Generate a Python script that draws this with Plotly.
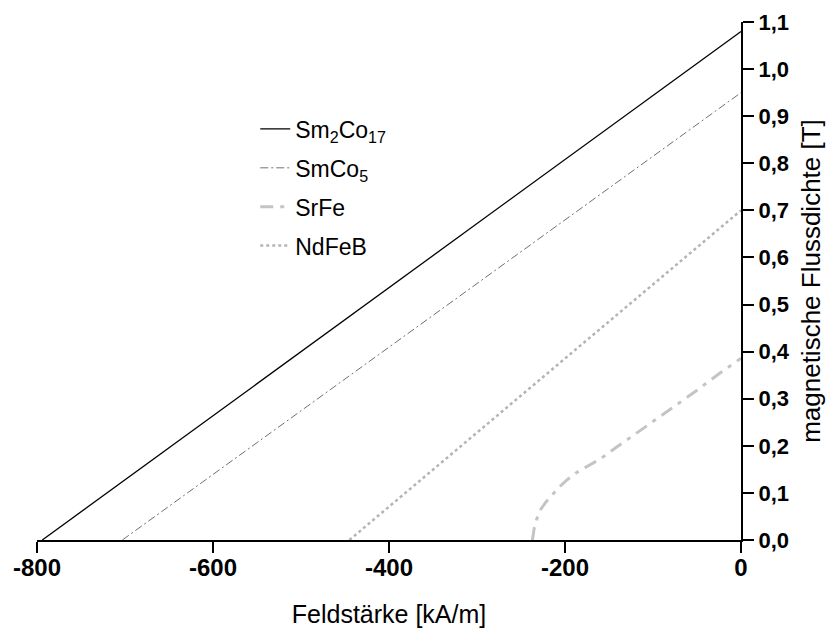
import plotly.graph_objects as go

# Data
sm2co17_H = [-794, 0]
sm2co17_B = [0.0, 1.08]

smco5_H = [-703, 0]
smco5_B = [0.0, 0.95]

ndfeb_H = [-445, 0]
ndfeb_B = [0.0, 0.70]

srfe_H = [-237, -235, -232, -228, -222, -215, -207, -198, -188, -176, -160, -140, -110, -80, -50, -25, 0]
srfe_B = [0.0, 0.025, 0.045, 0.064, 0.08, 0.096, 0.112, 0.127, 0.142, 0.155, 0.172, 0.199, 0.238, 0.278, 0.318, 0.353, 0.386]

x_ticks = [-800, -600, -400, -200, 0]
x_tick_labels = ["-800", "-600", "-400", "-200", "0"]
y_ticks = [0.0, 0.1, 0.2, 0.3, 0.4, 0.5, 0.6, 0.7, 0.8, 0.9, 1.0, 1.1]
y_tick_labels = ["0,0", "0,1", "0,2", "0,3", "0,4", "0,5", "0,6", "0,7", "0,8", "0,9", "1,0", "1,1"]

FONT = "Liberation Sans, Arial, sans-serif"

fig = go.Figure()
fig.add_trace(go.Scatter(x=sm2co17_H, y=sm2co17_B, mode="lines", name="Sm<sub>2</sub>Co<sub>17</sub>",
                         legendgroup="a", line=dict(color="black", width=1.3)))
fig.add_trace(go.Scatter(x=smco5_H, y=smco5_B, mode="lines", name="SmCo<sub>5</sub>",
                         legendgroup="b", line=dict(color="#707070", width=1, dash="8px,3px,2px,3px")))
fig.add_trace(go.Scatter(x=srfe_H, y=srfe_B, mode="lines", name="SrFe",
                         legendgroup="c", line=dict(color="#c4c4c4", width=3, dash="13px,7px,4px,7px")))
fig.add_trace(go.Scatter(x=ndfeb_H, y=ndfeb_B, mode="lines", name="NdFeB",
                         legendgroup="d", line=dict(color="#b4b4b4", width=2.5, dash="3px,3px")))

xr = [-800, 0]
yr = [0, 1.1]

fig.update_layout(
    width=828, height=628,
    margin=dict(l=37, r=87, t=22, b=88, autoexpand=False),
    paper_bgcolor="white", plot_bgcolor="white",
    font=dict(family=FONT, size=20, color="black"),
    showlegend=True,
    legend=dict(x=0.31, y=0.835, xanchor="left", yanchor="top",
                bgcolor="rgba(0,0,0,0)", font=dict(size=23, family=FONT),
                tracegroupgap=6),
    xaxis=dict(range=xr, tickvals=x_ticks, ticktext=x_tick_labels,
               ticks="outside", ticklen=11, tickwidth=2, tickcolor="black",
               showline=True, linecolor="black", linewidth=2,
               showgrid=False, zeroline=False, automargin=False,
               ticklabelstandoff=-6,
               tickfont=dict(family=FONT, size=24, weight="bold"),
               title=dict(text="Feldstärke [kA/m]", font=dict(size=25), standoff=27)),
    yaxis=dict(range=yr, side="right", tickvals=y_ticks, ticktext=y_tick_labels,
               ticks="outside", ticklen=11, tickwidth=2, tickcolor="black",
               showline=True, linecolor="black", linewidth=2,
               showgrid=False, zeroline=False, automargin=False,
               tickfont=dict(family=FONT, size=22, weight="bold"),
               title=dict(text="magnetische Flussdichte [T]", font=dict(size=26), standoff=13)),
    xaxis2=dict(range=xr, overlaying="x", anchor="y", side="bottom", tickvals=x_ticks,
                ticks="inside", ticklen=11, tickwidth=2, tickcolor="black",
                showticklabels=False, showgrid=False, zeroline=False, showline=False),
    yaxis2=dict(range=yr, overlaying="y", anchor="x", side="right", tickvals=y_ticks,
                ticks="inside", ticklen=11, tickwidth=2, tickcolor="black",
                showticklabels=False, showgrid=False, zeroline=False, showline=False),
)

fig.write_html("out.html")
